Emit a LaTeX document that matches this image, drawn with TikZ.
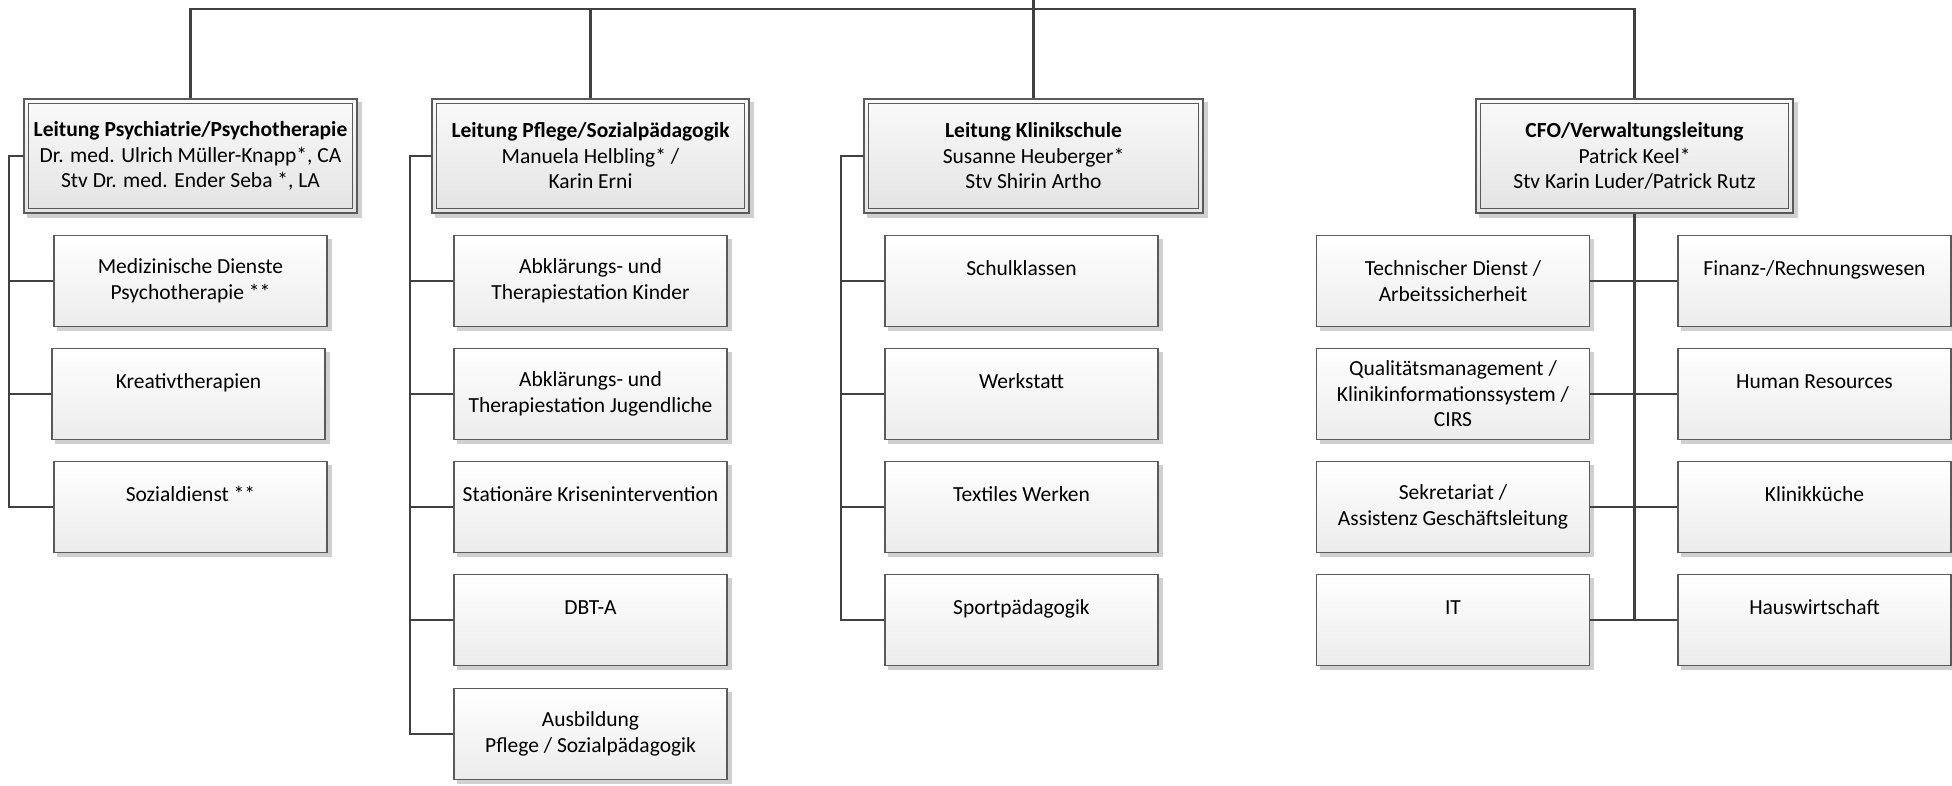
\documentclass[tikz,border=0pt]{standalone}
\usepackage{fontspec}
\setmainfont{Carlito}
\usetikzlibrary{backgrounds}
\definecolor{linec}{HTML}{404040}
\definecolor{boxc}{HTML}{5A5A5A}
\definecolor{shadowc}{HTML}{D0D0D0}
\begin{document}
\begin{tikzpicture}[x=1pt,y=-1pt,
  conn/.style={draw=linec, line width=2.6pt},
  txt/.style={align=center, font=\fontsize{21.5}{25.5}\selectfont},
  box/.style={txt, draw=boxc, line width=1.2pt, top color=white, bottom color=gray!15,
    minimum width=273pt, minimum height=91pt, inner sep=0pt},
  head/.style={txt, draw=boxc, line width=1.2pt, top color=gray!4, bottom color=gray!22,
    minimum height=114pt, inner sep=0pt},
  inner/.style={draw=boxc, line width=1pt}
]
\useasboundingbox (0,0) rectangle (1952,786);

% headers
\node[head, minimum width=333pt] (hp) at (190.5,156) {\textbf{Leitung Psychiatrie/Psychotherapie}\\Dr. med. Ulrich Müller-Knapp*, CA\\Stv Dr. med. Ender Seba *, LA};
\node[head, minimum width=317pt] (hf) at (590.5,156) {\textbf{Leitung Pflege/Sozialpädagogik}\\Manuela Helbling* /\\Karin Erni};
\node[head, minimum width=339pt] (hk) at (1033.5,156) {\textbf{Leitung Klinikschule}\\Susanne Heuberger*\\Stv Shirin Artho};
\node[head, minimum width=317pt] (hc) at (1634.5,156) {\textbf{CFO/Verwaltungsleitung}\\Patrick Keel*\\Stv Karin Luder/Patrick Rutz};
\foreach \n in {hp,hf,hk,hc}{
  \draw[inner] ([shift={(5,5)}]\n.north west) rectangle ([shift={(-5,-5)}]\n.south east);
}

% Psychiatrie children
\node[box] (p1) at (190.5,281) {Medizinische Dienste\\Psychotherapie **};
\node[box] (p2) at (188.5,394) {Kreativtherapien\\\mbox{}};
\node[box] (p3) at (190.5,507) {Sozialdienst **\\\mbox{}};

% Pflege children
\node[box] (f1) at (590.5,281) {Abklärungs- und\\Therapiestation Kinder};
\node[box] (f2) at (590.5,394) {Abklärungs- und\\Therapiestation Jugendliche};
\node[box] (f3) at (590.5,507) {Stationäre Krisenintervention\\\mbox{}};
\node[box] (f4) at (590.5,620) {DBT-A\\\mbox{}};
\node[box] (f5) at (590.5,734) {Ausbildung\\Pflege / Sozialpädagogik};

% Klinikschule children
\node[box] (k1) at (1021.5,281) {Schulklassen\\\mbox{}};
\node[box] (k2) at (1021.5,394) {Werkstatt\\\mbox{}};
\node[box] (k3) at (1021.5,507) {Textiles Werken\\\mbox{}};
\node[box] (k4) at (1021.5,620) {Sportpädagogik\\\mbox{}};

% CFO children
\node[box] (l1) at (1453,281) {Technischer Dienst /\\Arbeitssicherheit};
\node[box] (l2) at (1453,394) {Qualitätsmanagement /\\Klinikinformationssystem /\\CIRS};
\node[box] (l3) at (1453,507) {Sekretariat /\\Assistenz Geschäftsleitung};
\node[box] (l4) at (1453,620) {IT\\\mbox{}};
\node[box] (r1) at (1814.5,281) {Finanz-/Rechnungswesen\\\mbox{}};
\node[box] (r2) at (1814.5,394) {Human Resources\\\mbox{}};
\node[box] (r3) at (1814.5,507) {Klinikküche\\\mbox{}};
\node[box] (r4) at (1814.5,620) {Hauswirtschaft\\\mbox{}};

% shadows
\begin{scope}[on background layer]
\foreach \n in {hp,hf,hk,hc,p1,p2,p3,f1,f2,f3,f4,f5,k1,k2,k3,k4,l1,l2,l3,l4,r1,r2,r3,r4}{
  \fill[shadowc] ([shift={(4,4)}]\n.north west) rectangle ([shift={(4,4)}]\n.south east);
}
\end{scope}

% top connectors
\coordinate (top) at (1033.5,0);
\coordinate (bar) at (0,9);
\draw[conn] (top) -- (hk.north);
\draw[conn] (hp.north) -- (hp.north |- bar) -- (hc.north |- bar) -- (hc.north);
\draw[conn] (hf.north) -- (hf.north |- bar);

% Psychiatrie bus
\coordinate (pbus) at (9,156);
\draw[conn] (hp.west) -- (pbus) |- (p3.west);
\draw[conn] (pbus |- p1.west) -- (p1.west);
\draw[conn] (pbus |- p2.west) -- (p2.west);

% Pflege bus
\coordinate (fbus) at (410,156);
\draw[conn] (hf.west) -- (fbus) |- (f5.west);
\foreach \n in {f1,f2,f3,f4}{\draw[conn] (fbus |- \n.west) -- (\n.west);}

% Klinikschule bus
\coordinate (kbus) at (841,156);
\draw[conn] (hk.west) -- (kbus) |- (k4.west);
\foreach \n in {k1,k2,k3}{\draw[conn] (kbus |- \n.west) -- (\n.west);}

% CFO bus
\draw[conn] (hc.south) -- (hc.south |- r4.west);
\foreach \i in {1,2,3,4}{\draw[conn] (l\i.east) -- (r\i.west);}
\end{tikzpicture}
\end{document}
